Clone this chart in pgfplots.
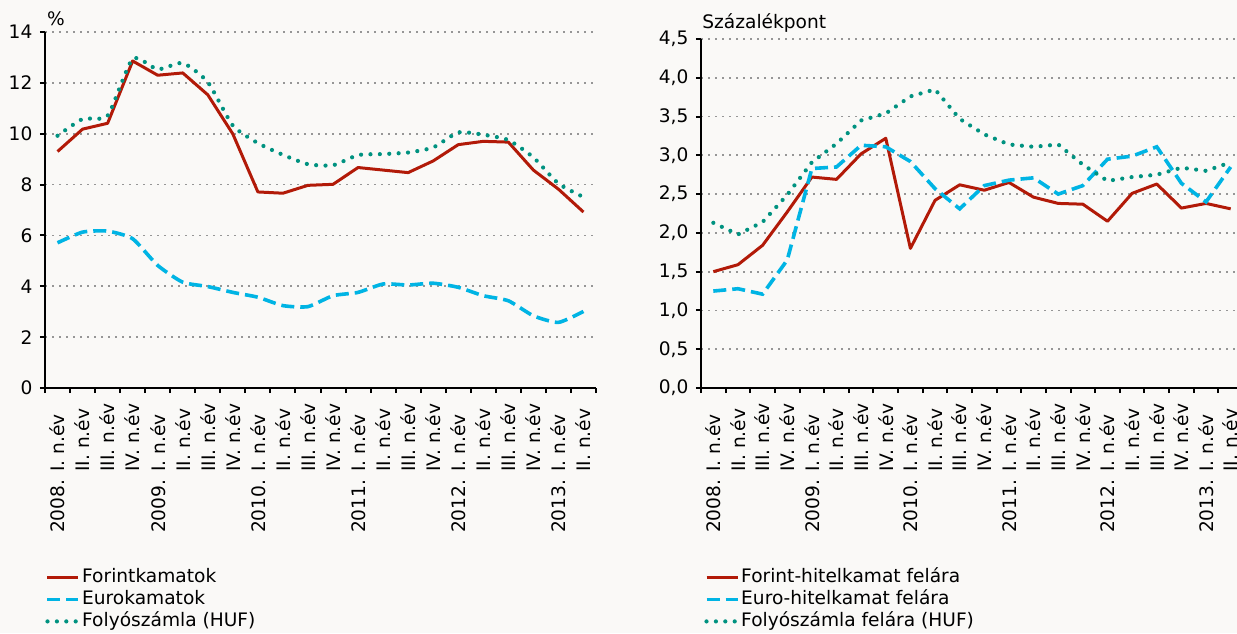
\documentclass[border=0pt]{standalone}
\usepackage{fontspec}
\setmainfont{DejaVu Sans}
\usepackage{pgfplots}
\pgfplotsset{compat=1.18}

\definecolor{bg}{RGB}{250,249,247}
\definecolor{huf}{RGB}{178,26,8}
\definecolor{eur}{RGB}{0,180,228}
\definecolor{folyo}{RGB}{0,146,128}
\definecolor{gridc}{RGB}{150,150,150}

% quarter label: year right-aligned below, quarter left-aligned above
\newcommand{\ql}[2]{\makebox[28pt][r]{#1}\hspace{4pt}\makebox[36pt][l]{#2}}

\pgfplotsset{
  mnb/.style={
    scale only axis, anchor=south west,
    axis x line*=bottom, axis y line*=left,
    axis line style={black, line width=1.1pt},
    xmin=-0.5, xmax=21.5,
    xtick={0,...,21},
    xticklabels={{\ql{2008.}{I. n.év}},{\ql{}{II. n.év}},{\ql{}{III. n.év}},{\ql{}{IV. n.év}},
      {\ql{2009.}{I. n.év}},{\ql{}{II. n.év}},{\ql{}{III. n.év}},{\ql{}{IV. n.év}},
      {\ql{2010.}{I. n.év}},{\ql{}{II. n.év}},{\ql{}{III. n.év}},{\ql{}{IV. n.év}},
      {\ql{2011.}{I. n.év}},{\ql{}{II. n.év}},{\ql{}{III. n.év}},{\ql{}{IV. n.év}},
      {\ql{2012.}{I. n.év}},{\ql{}{II. n.év}},{\ql{}{III. n.év}},{\ql{}{IV. n.év}},
      {\ql{2013.}{I. n.év}},{\ql{}{II. n.év}}},
    minor xtick={-0.5,0.5,...,21.5},
    major x tick style={draw=none},
    minor x tick style={black, line width=1pt},
    y tick style={black, line width=1pt},
    tick align=outside,
    major tick length=2.6pt, minor tick length=2.6pt,
    xticklabel style={rotate=90, anchor=east, inner sep=0pt},
    xticklabel shift=3pt,
    yticklabel style={inner sep=0pt},
    yticklabel shift=3.5pt,
    /pgf/number format/assume math mode=true,
    ymajorgrids,
    grid style={gridc, line width=0.9pt, dash pattern=on 0.9pt off 2.6pt},
    legend cell align=left,
    legend image code/.code={\draw[##1] (0pt,0pt) -- (15.5pt,0pt);},
    legend style={at={(0,0)}, anchor=north west, xshift=0pt, yshift=-89pt,
      draw=none, fill=none, inner sep=0pt, row sep=0pt,
      nodes={inner ysep=0pt, inner xsep=0.8pt, text height=8pt, text depth=3pt}},
  },
  hufl/.style={huf, line width=1.5pt, line join=round},
  eurl/.style={eur, line width=1.8pt, dash pattern=on 6.5pt off 3pt},
  fol/.style={folyo, line width=2.1pt, line cap=round, dash pattern=on 0pt off 4.7pt},
}

\begin{document}
\fontsize{9.3}{11}\selectfont
\begin{tikzpicture}
\fill[bg] (0,0) rectangle (618.5pt,316.5pt);
\useasboundingbox (0,0) rectangle (618.5pt,316.5pt);

% left panel: interest rates
\begin{axis}[mnb, name=L, at={(22.5pt,122.5pt)}, width=275.5pt, height=178pt,
  ymin=0, ymax=14, ytick={0,2,...,14}]
\addplot[hufl] coordinates {
  (0,9.30) (1,10.18) (2,10.41) (3,12.86) (4,12.30) (5,12.39) (6,11.53) (7,9.99)
  (8,7.71) (9,7.66) (10,7.97) (11,8.01) (12,8.67) (13,8.57) (14,8.47) (15,8.93)
  (16,9.57) (17,9.70) (18,9.67) (19,8.57) (20,7.82) (21,6.92)};
\addlegendentry{Forintkamatok}
\addplot[eurl, smooth, tension=0.35] coordinates {
  (0,5.71) (1,6.13) (2,6.17) (3,5.87) (4,4.82) (5,4.16) (6,3.99) (7,3.76)
  (8,3.57) (9,3.24) (10,3.20) (11,3.63) (12,3.76) (13,4.09) (14,4.05) (15,4.12)
  (16,3.96) (17,3.63) (18,3.43) (19,2.84) (20,2.58) (21,3.01)};
\addlegendentry{Eurokamatok}
\addplot[fol, smooth, tension=0.35] coordinates {
  (0,9.92) (1,10.58) (2,10.71) (3,12.95) (4,12.53) (5,12.78) (6,12.03) (7,10.32)
  (8,9.63) (9,9.17) (10,8.80) (11,8.76) (12,9.16) (13,9.20) (14,9.26) (15,9.46)
  (16,10.05) (17,9.96) (18,9.75) (19,9.07) (20,8.04) (21,7.51)};
\addlegendentry{Folyószámla (HUF)}
\end{axis}
\node[anchor=south west, inner sep=0pt, xshift=0.8pt, yshift=3pt] at (L.north west) {\%};

% right panel: spreads
\begin{axis}[mnb, name=R, at={(350.5pt,122.5pt)}, width=271pt, height=174.5pt,
  ymin=0, ymax=4.5, ytick={0,0.5,...,4.5},
  yticklabel style={/pgf/number format/.cd, fixed, fixed zerofill, precision=1, use comma},
  legend style={xshift=1.5pt}]
\addplot[hufl] coordinates {
  (0,1.50) (1,1.59) (2,1.84) (3,2.27) (4,2.72) (5,2.69) (6,3.02) (7,3.22)
  (8,1.80) (9,2.42) (10,2.62) (11,2.55) (12,2.65) (13,2.46) (14,2.38) (15,2.37)
  (16,2.15) (17,2.51) (18,2.63) (19,2.32) (20,2.38) (21,2.31)};
\addlegendentry{Forint-hitelkamat felára}
\addplot[eurl] coordinates {
  (0,1.25) (1,1.28) (2,1.21) (3,1.65) (4,2.83) (5,2.85) (6,3.13) (7,3.11)
  (8,2.92) (9,2.57) (10,2.31) (11,2.61) (12,2.68) (13,2.71) (14,2.50) (15,2.61)
  (16,2.95) (17,2.99) (18,3.11) (19,2.64) (20,2.40) (21,2.85)};
\addlegendentry{Euro-hitelkamat felára}
\addplot[fol] coordinates {
  (0,2.13) (1,1.98) (2,2.14) (3,2.49) (4,2.91) (5,3.15) (6,3.45) (7,3.54)
  (8,3.76) (9,3.85) (10,3.47) (11,3.27) (12,3.14) (13,3.11) (14,3.14) (15,2.88)
  (16,2.67) (17,2.72) (18,2.75) (19,2.84) (20,2.80) (21,2.91)};
\addlegendentry{Folyószámla felára (HUF)}
\end{axis}
\node[anchor=south west, inner sep=0pt, xshift=0.5pt, yshift=3pt] at (R.north west) {Százalékpont};
\end{tikzpicture}
\end{document}
